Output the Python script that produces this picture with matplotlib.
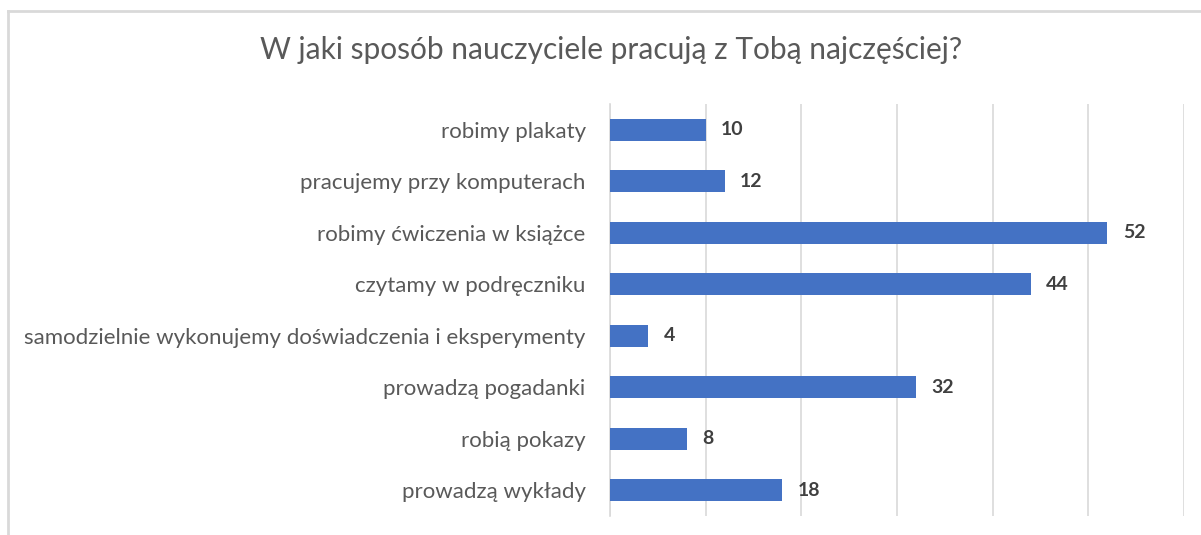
import matplotlib.pyplot as plt
from matplotlib.lines import Line2D

# data (top to bottom as shown)
categories = ["robimy plakaty", "pracujemy przy komputerach", "robimy ćwiczenia w książce",
              "czytamy w podręczniku", "samodzielnie wykonujemy doświadczenia i eksperymenty",
              "prowadzą pogadanki", "robią pokazy", "prowadzą wykłady"]
values = [10, 12, 52, 44, 4, 32, 8, 18]

plt.rcParams['font.family'] = ['Lato', 'DejaVu Sans']

fig = plt.figure(figsize=(12.01, 5.35), dpi=100)
ax = fig.add_axes([610/1201, 1 - 516/535, (1184 - 610)/1201, (516 - 104)/535])

ypos = list(range(len(categories)))
ax.barh(ypos, values, height=0.43, color='#4472C4', zorder=3)
for y, v in zip(ypos, values):
    ax.text(v + 1.6, y, str(v), va='center', ha='left', fontsize=14,
            fontweight='bold', color='#404040')

ax.set_xlim(0, 60)
ax.set_ylim(len(categories) - 0.5, -0.5)
ax.set_xticks(range(0, 61, 10))
ax.set_xticklabels([])
ax.tick_params(axis='x', length=0)
ax.grid(axis='x', color='#d9d9d9', linewidth=1.2, zorder=0)
ax.set_yticks(ypos)
ax.set_yticklabels(categories, fontsize=16, color='#595959')
ax.tick_params(axis='y', length=0, pad=17.5)
for s in ['top', 'right', 'bottom']:
    ax.spines[s].set_visible(False)
ax.spines['left'].set_color('#d9d9d9')
ax.spines['left'].set_linewidth(1.2)

fig.text(611/1201, 1 - 50/535, "W jaki sposób nauczyciele pracują z Tobą najczęściej?",
         ha='center', va='center', fontsize=21.5, color='#595959')

# chart border (left and top)
fig.add_artist(Line2D([8/1201, 8/1201], [0, 1 - 11/535], color='#d9d9d9', linewidth=2))
fig.add_artist(Line2D([8/1201, 1], [1 - 11/535, 1 - 11/535], color='#d9d9d9', linewidth=2))

fig.savefig('out.png', dpi=100)
